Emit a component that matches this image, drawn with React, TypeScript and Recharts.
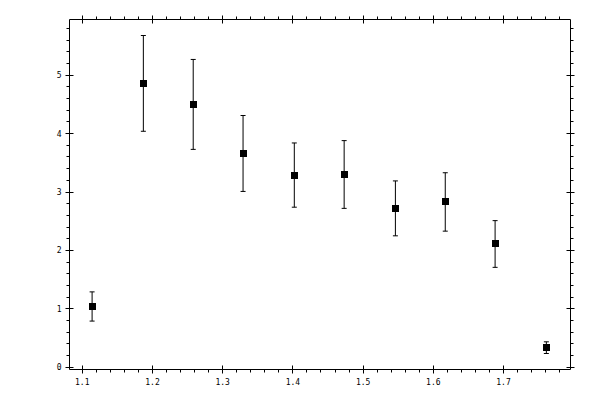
import { ScatterChart, Scatter, XAxis, YAxis, ErrorBar } from "recharts";

// measured points (x, y, symmetric y error)
const xValues = [1.114, 1.187, 1.258, 1.329, 1.402, 1.473, 1.546, 1.617, 1.688, 1.761];
const yValues = [1.04, 4.86, 4.5, 3.66, 3.29, 3.3, 2.72, 2.83, 2.11, 0.335];
const yErrors = [0.25, 0.82, 0.77, 0.65, 0.55, 0.58, 0.47, 0.5, 0.4, 0.1];

const xMajorTicks = [1.1, 1.2, 1.3, 1.4, 1.5, 1.6, 1.7];
const yMajorTicks = [0, 1, 2, 3, 4, 5];
const xMinorStep = 0.02;
const yMinorStep = 0.2;

const xDomain: [number, number] = [1.0818, 1.7954];
const yDomain: [number, number] = [-0.039, 5.954];

const data = xValues.map((x, i) => ({ x, y: yValues[i], err: yErrors[i] }));

const round3 = (v: number) => Math.round(v * 1000) / 1000;

function allTicks(domain: [number, number], step: number) {
  const out: number[] = [];
  const start = Math.ceil(domain[0] / step - 1e-9);
  const end = Math.floor(domain[1] / step + 1e-9);
  for (let n = start; n <= end; n++) out.push(round3(n * step));
  return out;
}

const xTicks = allTicks(xDomain, xMinorStep);
const yTicks = allTicks(yDomain, yMinorStep);

const isMajor = (v: number, majors: number[]) => majors.some((m) => Math.abs(m - v) < 1e-6);
const crisp = (v: number) => Math.round(v - 0.5) + 0.5;

const FONT = "'DejaVu Sans Mono', monospace";
const INK = "#000";

function BottomTick(props: any) {
  const { x, y, payload } = props;
  const px = crisp(x);
  const major = isMajor(payload.value, xMajorTicks);
  return (
    <g>
      {major ? (
        <line x1={px} x2={px} y1={y - 4} y2={y + 4} stroke={INK} />
      ) : (
        <line x1={px} x2={px} y1={y} y2={y + 3} stroke={INK} />
      )}
      {major && (
        <text x={x} y={y + 15} textAnchor="middle" fontSize={8} fontFamily={FONT} fill={INK}>
          {payload.value.toFixed(1)}
        </text>
      )}
    </g>
  );
}

function TopTick(props: any) {
  const { x, y, payload } = props;
  const px = crisp(x);
  const major = isMajor(payload.value, xMajorTicks);
  return major ? (
    <line x1={px} x2={px} y1={y - 4} y2={y + 4} stroke={INK} />
  ) : (
    <line x1={px} x2={px} y1={y - 3} y2={y} stroke={INK} />
  );
}

function LeftTick(props: any) {
  const { x, y, payload } = props;
  const py = crisp(y);
  const major = isMajor(payload.value, yMajorTicks);
  return (
    <g>
      {major ? (
        <line x1={x - 4} x2={x + 4} y1={py} y2={py} stroke={INK} />
      ) : (
        <line x1={x - 3} x2={x} y1={py} y2={py} stroke={INK} />
      )}
      {major && (
        <text x={x - 8} y={y + 3} textAnchor="end" fontSize={8} fontFamily={FONT} fill={INK}>
          {payload.value}
        </text>
      )}
    </g>
  );
}

function RightTick(props: any) {
  const { x, y, payload } = props;
  const py = crisp(y);
  const major = isMajor(payload.value, yMajorTicks);
  return major ? (
    <line x1={x - 4} x2={x + 4} y1={py} y2={py} stroke={INK} />
  ) : (
    <line x1={x} x2={x + 3} y1={py} y2={py} stroke={INK} />
  );
}

function SquareMarker(props: any) {
  const { cx, cy } = props;
  const s = 7;
  return <rect x={Math.round(cx - s / 2)} y={Math.round(cy - s / 2)} width={s} height={s} fill={INK} />;
}

const NoMarker = () => <g />;

export default function App() {
  return (
    <div style={{ position: "absolute", left: 0, top: 0, width: 600, height: 400, background: "#fff" }}>
      <ScatterChart width={600} height={400} margin={{ top: 18.5, right: 28.5, bottom: 0, left: 0 }}>
        <XAxis
          xAxisId="b"
          type="number"
          dataKey="x"
          orientation="bottom"
          domain={xDomain}
          allowDataOverflow
          ticks={xTicks}
          interval={0}
          height={30.5}
          tickSize={0}
          tickMargin={0}
          tickLine={false}
          axisLine={{ stroke: INK }}
          tick={<BottomTick />}
        />
        <XAxis
          xAxisId="t"
          type="number"
          dataKey="x"
          orientation="top"
          domain={xDomain}
          allowDataOverflow
          ticks={xTicks}
          interval={0}
          height={1}
          tickSize={0}
          tickMargin={0}
          tickLine={false}
          axisLine={{ stroke: INK }}
          tick={<TopTick />}
        />
        <YAxis
          yAxisId="l"
          type="number"
          dataKey="y"
          orientation="left"
          domain={yDomain}
          allowDataOverflow
          ticks={yTicks}
          interval={0}
          width={69.5}
          tickSize={0}
          tickMargin={0}
          tickLine={false}
          axisLine={{ stroke: INK }}
          tick={<LeftTick />}
        />
        <YAxis
          yAxisId="r"
          type="number"
          dataKey="y"
          orientation="right"
          domain={yDomain}
          allowDataOverflow
          ticks={yTicks}
          interval={0}
          width={1}
          tickSize={0}
          tickMargin={0}
          tickLine={false}
          axisLine={{ stroke: INK }}
          tick={<RightTick />}
        />
        {/* invisible series so the top and right frame axes get drawn */}
        <Scatter
          data={data}
          xAxisId="t"
          yAxisId="r"
          shape={<NoMarker />}
          isAnimationActive={false}
        />
        <Scatter
          data={data}
          xAxisId="b"
          yAxisId="l"
          shape={<SquareMarker />}
          fill={INK}
          isAnimationActive={false}
        >
          <ErrorBar dataKey="err" direction="y" width={2.5} stroke={INK} strokeWidth={1} isAnimationActive={false} />
        </Scatter>
      </ScatterChart>
    </div>
  );
}
